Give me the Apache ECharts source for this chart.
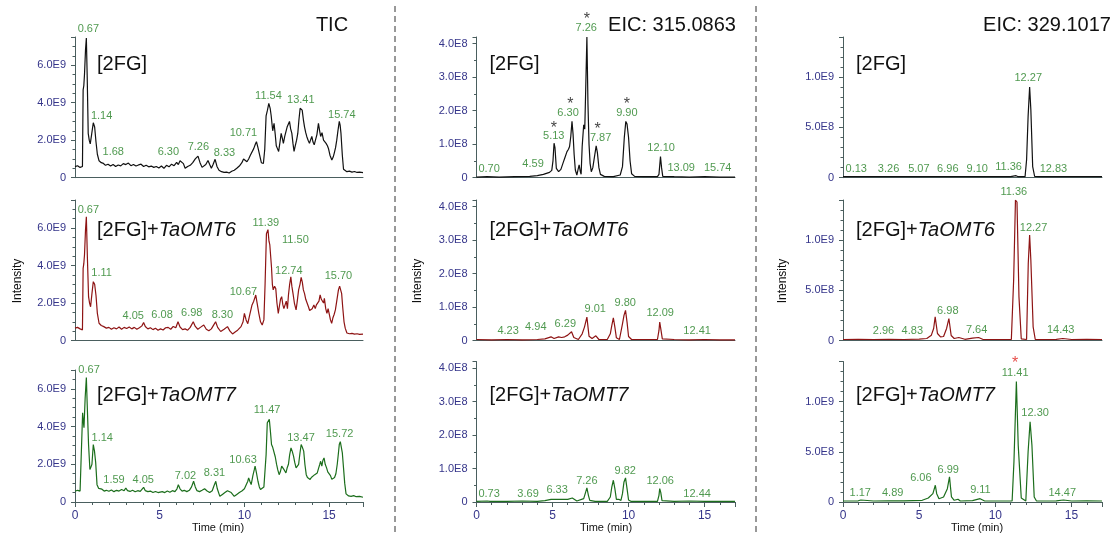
<!DOCTYPE html>
<html>
<head>
<meta charset="utf-8">
<script src="https://cdn.jsdelivr.net/npm/echarts@6/dist/echarts.min.js"></script>
<style>
html,body{margin:0;padding:0;background:#fff}
#chart{width:1112px;height:535px}
</style>
</head>
<body>
<div id="chart"></div>
<script>
// ---- data: [time (min), intensity] ; TIC in E9, EIC in E8 ----
var ticFG = [[0,0.59],[0.15,0.64],[0.3,0.55],[0.44,0.6],[0.48,4.68],[0.52,4.9],[0.56,5.5],[0.62,6.8],[0.67,7.45],[0.72,5.4],[0.78,2.36],[0.84,2.0],[0.9,1.8],[0.98,2.3],[1.08,2.93],[1.16,2.7],[1.24,1.9],[1.32,1.25],[1.42,0.9],[1.55,0.8],[1.68,0.76],[1.8,0.66],[1.95,0.72],[2.1,0.62],[2.25,0.7],[2.4,0.6],[2.55,0.68],[2.7,0.63],[2.85,0.75],[3.0,0.7],[3.15,0.78],[3.3,0.64],[3.45,0.7],[3.6,0.62],[3.75,0.68],[3.9,0.72],[4.05,0.6],[4.2,0.66],[4.35,0.58],[4.5,0.62],[4.65,0.55],[4.8,0.6],[4.95,0.52],[5.1,0.62],[5.25,0.5],[5.4,0.66],[5.55,0.58],[5.7,0.72],[5.85,0.64],[6.0,0.82],[6.1,0.7],[6.2,0.9],[6.3,1.0],[6.4,0.75],[6.5,0.5],[6.65,0.6],[6.8,0.66],[6.95,0.8],[7.1,1.0],[7.26,1.15],[7.38,0.8],[7.5,0.55],[7.6,0.62],[7.72,0.7],[7.85,0.92],[7.95,0.7],[8.05,0.5],[8.15,0.7],[8.27,0.98],[8.38,0.6],[8.5,0.4],[8.65,0.32],[8.8,0.28],[8.95,0.3],[9.1,0.25],[9.25,0.34],[9.4,0.4],[9.55,0.5],[9.7,0.62],[9.85,0.8],[9.95,1.0],[10.05,1.1],[10.15,0.85],[10.25,1.0],[10.35,1.2],[10.45,1.3],[10.55,1.55],[10.65,1.8],[10.71,1.92],[10.8,1.6],[10.9,1.2],[11.0,0.8],[11.12,0.76],[11.2,1.5],[11.28,3.3],[11.36,3.6],[11.44,3.96],[11.52,3.7],[11.58,3.3],[11.67,2.5],[11.75,2.9],[11.82,2.3],[11.88,1.7],[11.95,1.55],[12.02,1.4],[12.1,1.9],[12.17,2.36],[12.24,2.1],[12.3,1.83],[12.38,2.2],[12.45,2.1],[12.52,2.7],[12.6,2.8],[12.66,3.0],[12.73,2.6],[12.8,2.36],[12.87,1.8],[12.93,1.4],[13.0,1.7],[13.08,2.0],[13.15,2.36],[13.22,3.1],[13.29,3.7],[13.35,3.8],[13.41,3.6],[13.48,3.1],[13.55,2.7],[13.62,2.4],[13.68,2.2],[13.76,2.0],[13.84,1.83],[13.9,2.0],[13.98,2.2],[14.05,1.9],[14.12,1.75],[14.2,1.65],[14.28,2.3],[14.37,2.9],[14.44,2.5],[14.5,2.2],[14.58,2.4],[14.67,2.0],[14.75,2.1],[14.82,1.83],[14.9,1.7],[14.96,1.56],[15.05,1.2],[15.16,0.94],[15.24,1.1],[15.3,1.3],[15.38,1.6],[15.45,2.0],[15.52,2.5],[15.6,3.0],[15.65,2.8],[15.7,2.36],[15.78,1.2],[15.85,0.45],[15.95,0.36],[16.05,0.32],[16.2,0.35],[16.35,0.3],[16.5,0.33],[16.65,0.28],[16.8,0.3],[17.0,0.27]];
var ticOMT6 = [[0,0.66],[0.15,0.7],[0.3,0.62],[0.44,0.57],[0.48,3.85],[0.52,4.1],[0.56,4.56],[0.62,5.9],[0.67,6.6],[0.73,4.47],[0.8,2.34],[0.86,2.0],[0.92,1.8],[1.0,2.5],[1.08,3.14],[1.16,3.0],[1.24,2.4],[1.32,1.45],[1.42,0.92],[1.55,0.8],[1.7,0.74],[1.85,0.66],[2.0,0.7],[2.15,0.6],[2.3,0.68],[2.45,0.62],[2.6,0.72],[2.75,0.6],[2.9,0.7],[3.05,0.64],[3.2,0.72],[3.35,0.62],[3.5,0.7],[3.65,0.6],[3.8,0.68],[3.95,0.78],[4.05,0.96],[4.15,0.75],[4.3,0.62],[4.45,0.68],[4.6,0.58],[4.75,0.65],[4.9,0.55],[5.05,0.62],[5.2,0.56],[5.35,0.68],[5.5,0.7],[5.65,0.6],[5.8,0.75],[5.95,0.68],[6.08,1.0],[6.2,0.72],[6.35,0.58],[6.5,0.62],[6.65,0.55],[6.8,0.7],[6.98,1.0],[7.1,0.75],[7.25,0.6],[7.4,0.7],[7.6,0.83],[7.75,0.6],[7.9,0.52],[8.05,0.62],[8.2,0.85],[8.3,1.0],[8.42,0.7],[8.6,0.48],[8.8,0.6],[9.0,0.74],[9.15,0.5],[9.3,0.35],[9.45,0.45],[9.6,0.55],[9.8,0.74],[9.92,1.0],[10.0,1.45],[10.1,1.1],[10.2,0.9],[10.32,1.4],[10.45,1.9],[10.55,2.1],[10.67,2.43],[10.75,2.0],[10.85,1.45],[10.95,1.0],[11.05,0.83],[11.15,1.1],[11.22,3.0],[11.3,5.7],[11.39,5.92],[11.45,5.3],[11.5,5.1],[11.55,4.5],[11.6,3.9],[11.65,3.0],[11.7,2.7],[11.78,2.9],[11.85,2.78],[11.92,2.0],[12.0,1.45],[12.06,1.8],[12.13,2.2],[12.2,2.34],[12.27,1.9],[12.33,1.7],[12.4,1.8],[12.47,2.1],[12.54,1.7],[12.6,2.43],[12.67,3.0],[12.74,3.4],[12.8,2.9],[12.87,2.5],[12.95,2.0],[13.05,1.63],[13.12,2.1],[13.2,2.7],[13.28,3.0],[13.35,3.37],[13.42,3.1],[13.48,2.7],[13.55,2.5],[13.62,2.2],[13.7,2.0],[13.78,1.8],[13.85,1.6],[13.92,1.54],[14.0,1.7],[14.1,1.9],[14.18,1.7],[14.25,1.9],[14.32,1.8],[14.4,2.1],[14.47,2.43],[14.54,2.2],[14.6,2.3],[14.67,2.0],[14.72,2.25],[14.8,1.7],[14.87,1.45],[14.94,1.7],[15.0,1.6],[15.08,1.1],[15.15,0.92],[15.22,1.2],[15.3,1.4],[15.37,1.63],[15.45,2.1],[15.55,2.7],[15.62,2.9],[15.68,3.0],[15.74,2.5],[15.8,1.8],[15.88,1.0],[15.95,0.66],[16.05,0.4],[16.2,0.36],[16.35,0.38],[16.5,0.34],[16.65,0.36],[16.8,0.33],[17.0,0.34]];
var ticOMT7 = [[0,0.57],[0.15,0.62],[0.3,0.58],[0.4,0.6],[0.45,4.73],[0.5,4.2],[0.53,3.94],[0.6,5.53],[0.67,6.6],[0.72,5.18],[0.8,3.05],[0.88,1.72],[0.94,1.85],[1.0,2.0],[1.08,3.05],[1.15,2.7],[1.22,2.1],[1.3,0.92],[1.4,0.72],[1.5,0.66],[1.59,0.68],[1.72,0.58],[1.85,0.62],[2.0,0.57],[2.15,0.64],[2.3,0.55],[2.45,0.62],[2.6,0.58],[2.75,0.66],[2.9,0.6],[3.0,0.74],[3.1,0.6],[3.25,0.56],[3.4,0.62],[3.55,0.54],[3.7,0.6],[3.85,0.56],[3.95,0.65],[4.05,0.78],[4.15,0.6],[4.3,0.55],[4.45,0.58],[4.6,0.5],[4.75,0.56],[4.9,0.5],[5.0,0.48],[5.15,0.55],[5.3,0.5],[5.45,0.58],[5.6,0.52],[5.75,0.6],[5.9,0.55],[6.02,0.7],[6.1,0.92],[6.2,0.7],[6.32,0.58],[6.45,0.62],[6.6,0.55],[6.75,0.62],[6.88,0.8],[7.0,1.1],[7.1,0.8],[7.2,0.6],[7.35,0.55],[7.5,0.62],[7.65,0.7],[7.8,0.58],[7.95,0.5],[8.1,0.6],[8.2,0.85],[8.31,1.1],[8.4,0.7],[8.55,0.3],[8.7,0.4],[8.85,0.5],[9.0,0.6],[9.1,0.66],[9.22,0.5],[9.4,0.3],[9.55,0.4],[9.7,0.5],[9.85,0.58],[10.0,0.7],[10.1,0.8],[10.2,1.1],[10.25,1.28],[10.32,1.1],[10.4,0.92],[10.5,1.4],[10.58,1.7],[10.63,1.9],[10.7,1.6],[10.8,1.1],[10.88,0.8],[10.95,0.66],[11.05,0.75],[11.15,0.8],[11.22,0.83],[11.28,2.5],[11.35,4.2],[11.42,4.3],[11.47,4.38],[11.53,3.8],[11.6,3.05],[11.67,2.9],[11.75,2.87],[11.82,2.4],[11.9,1.99],[11.97,1.7],[12.05,1.45],[12.12,1.6],[12.2,1.9],[12.27,1.99],[12.35,1.7],[12.45,1.54],[12.52,1.8],[12.6,2.0],[12.67,2.5],[12.75,2.87],[12.82,2.7],[12.9,2.43],[12.97,2.1],[13.05,1.81],[13.12,1.9],[13.2,2.0],[13.28,2.6],[13.35,3.05],[13.42,2.9],[13.5,2.7],[13.57,2.0],[13.65,1.45],[13.72,1.3],[13.8,1.2],[13.88,1.19],[13.95,1.3],[14.05,1.35],[14.15,1.45],[14.22,1.4],[14.3,1.54],[14.38,1.8],[14.45,2.0],[14.5,2.16],[14.57,1.9],[14.63,2.2],[14.7,2.34],[14.77,2.0],[14.85,1.81],[14.92,1.6],[15.0,1.5],[15.08,1.4],[15.16,1.2],[15.25,1.1],[15.32,1.3],[15.4,1.5],[15.48,2.0],[15.55,2.6],[15.6,3.05],[15.66,3.2],[15.72,3.23],[15.78,2.6],[15.85,1.81],[15.92,1.0],[16.0,0.43],[16.15,0.32],[16.3,0.3],[16.45,0.34],[16.6,0.28],[16.8,0.3],[17.0,0.25]];

var eic315FG = [[0,0.02],[0.7,0.03],[1.5,0.02],[2.5,0.03],[3.5,0.04],[4.0,0.06],[4.4,0.1],[4.6,0.13],[4.8,0.16],[4.95,0.22],[5.03,0.5],[5.1,1.03],[5.16,0.9],[5.25,0.28],[5.4,0.18],[5.55,0.25],[5.7,0.45],[5.8,0.58],[5.95,0.78],[6.05,0.85],[6.12,0.93],[6.2,1.23],[6.28,1.68],[6.35,1.3],[6.42,0.7],[6.5,0.23],[6.6,0.08],[6.68,0.25],[6.75,0.38],[6.82,0.2],[6.88,0.1],[6.95,0.93],[7.05,1.58],[7.12,1.45],[7.18,2.6],[7.26,4.2],[7.33,2.2],[7.4,1.0],[7.47,0.43],[7.55,0.18],[7.65,0.3],[7.75,0.6],[7.87,0.95],[7.95,0.75],[8.05,0.3],[8.15,0.1],[8.4,0.04],[9.0,0.03],[9.45,0.08],[9.6,0.33],[9.72,1.2],[9.82,1.68],[9.9,1.6],[10.0,1.2],[10.1,0.5],[10.2,0.12],[10.4,0.04],[11.0,0.03],[11.9,0.03],[12.0,0.1],[12.1,0.63],[12.17,0.3],[12.25,0.04],[13.0,0.03],[14.0,0.02],[15.0,0.03],[16.0,0.02],[17.0,0.02]];
var eic315OMT6 = [[0,0.03],[1,0.02],[2,0.03],[3,0.02],[4,0.03],[4.5,0.05],[4.9,0.11],[5.1,0.06],[5.4,0.11],[5.6,0.09],[5.8,0.11],[6.0,0.16],[6.12,0.2],[6.25,0.26],[6.4,0.09],[6.7,0.03],[6.95,0.2],[7.1,0.4],[7.26,0.7],[7.4,0.13],[7.6,0.06],[7.85,0.14],[8.05,0.03],[8.6,0.03],[8.8,0.2],[8.9,0.45],[9.0,0.68],[9.1,0.4],[9.2,0.08],[9.4,0.03],[9.6,0.5],[9.7,0.75],[9.8,0.9],[9.9,0.55],[10.0,0.12],[10.2,0.03],[11.0,0.03],[11.9,0.03],[12.0,0.3],[12.05,0.55],[12.12,0.35],[12.22,0.05],[13,0.03],[14,0.02],[15,0.03],[16,0.02],[17,0.02]];
var eic315OMT7 = [[0,0.02],[0.7,0.03],[0.8,0.05],[0.9,0.02],[2,0.02],[3,0.03],[4,0.02],[4.5,0.04],[4.9,0.08],[5.0,0.06],[5.5,0.08],[6.0,0.08],[6.3,0.12],[6.6,0.03],[7.05,0.1],[7.15,0.25],[7.26,0.42],[7.36,0.2],[7.45,0.05],[7.8,0.02],[8.6,0.02],[8.8,0.15],[8.9,0.45],[9.0,0.65],[9.1,0.4],[9.2,0.08],[9.35,0.08],[9.5,0.05],[9.6,0.25],[9.7,0.6],[9.8,0.72],[9.9,0.4],[10.0,0.06],[10.15,0.02],[11.9,0.02],[12.0,0.2],[12.05,0.4],[12.12,0.28],[12.2,0.04],[13,0.02],[14,0.03],[15,0.02],[16,0.02],[17,0.02]];

var eic329FG = [[0,0.1],[1,0.12],[2,0.1],[3,0.11],[4,0.1],[5,0.12],[6,0.1],[7,0.11],[8,0.1],[9,0.12],[10,0.1],[11,0.11],[11.36,0.2],[11.5,0.1],[11.95,0.1],[12.05,1.77],[12.15,6.1],[12.25,9.03],[12.33,6.77],[12.45,1.1],[12.58,0.12],[13,0.1],[14,0.11],[15,0.1],[16,0.11],[17,0.1]];
var eic329OMT6 = [[0,0.1],[1,0.12],[2,0.1],[3,0.11],[4,0.1],[5,0.14],[5.5,0.2],[5.8,0.53],[5.95,1.2],[6.05,2.36],[6.2,0.7],[6.4,0.37],[6.6,0.4],[6.8,1.2],[6.95,2.19],[7.1,0.5],[7.3,0.2],[7.6,0.3],[8.0,0.12],[8.5,0.23],[8.9,0.3],[9.2,0.1],[10,0.1],[11.05,0.1],[11.2,6.0],[11.32,14.0],[11.42,13.8],[11.55,4.35],[11.7,0.17],[12.05,0.1],[12.16,7.67],[12.25,10.5],[12.33,8.0],[12.48,1.36],[12.62,0.1],[13,0.1],[14,0.12],[14.43,0.2],[15,0.1],[16,0.12],[17,0.1]];
var eic329OMT7 = [[0,0.1],[1,0.12],[1.17,0.2],[2,0.1],[3,0.11],[4,0.12],[5.2,0.17],[5.6,0.4],[5.9,0.83],[6.06,1.67],[6.15,0.83],[6.3,0.33],[6.6,0.5],[6.85,1.33],[6.99,2.5],[7.12,0.5],[7.3,0.17],[7.55,0.27],[7.7,0.1],[8.5,0.13],[9.0,0.33],[9.11,0.3],[9.3,0.1],[11.1,0.1],[11.22,4.0],[11.38,12.0],[11.5,5.67],[11.7,0.4],[12.0,0.1],[12.15,5.0],[12.28,8.0],[12.4,5.67],[12.55,0.5],[12.7,0.1],[14,0.12],[14.47,0.2],[15,0.1],[16,0.11],[17,0.1]];

// peak labels: [x of text, y of text, retention time]
var ticFGPeaks = [[0.79,7.91,'0.67'],[1.57,3.31,'1.14'],[2.26,1.35,'1.68'],[5.51,1.35,'6.30'],[7.28,1.62,'7.26'],[8.82,1.30,'8.33'],[9.94,2.36,'10.71'],[11.42,4.37,'11.54'],[13.33,4.14,'13.41'],[15.75,3.34,'15.74']];
var ticOMT6Peaks = [[0.79,6.99,'0.67'],[1.57,3.58,'1.11'],[3.44,1.33,'4.05'],[5.14,1.37,'6.08'],[6.89,1.45,'6.98'],[8.70,1.37,'8.30'],[9.94,2.61,'10.67'],[11.26,6.28,'11.39'],[13.01,5.39,'11.50'],[12.62,3.72,'12.74'],[15.55,3.44,'15.70']];
var ticOMT7Peaks = [[0.83,7.0,'0.67'],[1.61,3.40,'1.14'],[2.30,1.15,'1.59'],[4.03,1.15,'4.05'],[6.52,1.37,'7.02'],[8.23,1.54,'8.31'],[9.92,2.25,'10.63'],[11.34,4.86,'11.47'],[13.34,3.40,'13.47'],[15.62,3.62,'15.72']];
var eic315FGPeaks = [[0.83,0.25,'0.70'],[3.72,0.40,'4.59'],[5.08,1.25,'5.13'],[6.02,1.93,'6.30'],[7.22,4.48,'7.26'],[8.16,1.18,'7.87'],[9.89,1.93,'9.90'],[12.14,0.88,'12.10'],[13.46,0.28,'13.09'],[15.86,0.28,'15.74']];
var eic315OMT6Peaks = [[2.08,0.29,'4.23'],[3.90,0.41,'4.94'],[5.84,0.48,'6.29'],[7.81,0.93,'9.01'],[9.78,1.13,'9.80'],[12.08,0.82,'12.09'],[14.51,0.29,'12.41']];
var eic315OMT7Peaks = [[0.83,0.23,'0.73'],[3.39,0.23,'3.69'],[5.30,0.37,'6.33'],[7.26,0.62,'7.26'],[9.78,0.92,'9.82'],[12.08,0.62,'12.06'],[14.51,0.23,'12.44']];
var eic329FGPeaks = [[0.87,0.83,'0.13'],[2.99,0.83,'3.26'],[4.98,0.83,'5.07'],[6.88,0.83,'6.96'],[8.81,0.83,'9.10'],[10.87,1.03,'11.36'],[12.16,9.93,'12.27'],[13.81,0.83,'12.83']];
var eic329OMT6Peaks = [[11.21,14.8,'11.36'],[12.51,11.26,'12.27'],[6.88,2.92,'6.98'],[2.66,0.93,'2.96'],[4.55,0.93,'4.83'],[8.77,1.03,'7.64'],[14.29,1.03,'14.43']];
var eic329OMT7Peaks = [[11.30,12.9,'11.41'],[12.61,8.83,'12.30'],[6.91,3.23,'6.99'],[5.11,2.43,'6.06'],[9.02,1.17,'9.11'],[1.13,0.9,'1.17'],[3.26,0.9,'4.89'],[14.39,0.9,'14.47']];

// asterisks marking peaks
var eic315FGStars = [[5.08,1.47],[6.17,2.17],[7.26,4.71],[7.97,1.43],[9.89,2.17]];
var eic329OMT7Stars = [[11.30,13.75]];

var titles = ['TIC', 'EIC: 315.0863', 'EIC: 329.1017'];
var samples = ['[2FG]', '[2FG]+', '[2FG]+'];
var enzymes = ['', 'TaOMT6', 'TaOMT7'];

var FONT = 'Liberation Sans, Arial, Helvetica, sans-serif';
var axisColor = '#4a5e5e';
var tickBlue = '#35358a';
var peakGreen = '#237f23';
var lineColors = ['#111111', '#8e1414', '#1c6e1c'];

var colBox = [{left: 75, width: 288}, {left: 476.5, width: 258.5}, {left: 843, width: 259}];
var rowBox = [{top: 37, height: 140.7}, {top: 200, height: 140.5}, {top: 361.5, height: 140.5}];
var yMax = [[7.5, 7.5, 7.0], [4.2, 4.2, 4.2], [14, 14, 14]];
var yStep = [2, 1, 5];
var yMinor = [4, 2, 5];

var traces = [[ticFG, ticOMT6, ticOMT7], [eic315FG, eic315OMT6, eic315OMT7], [eic329FG, eic329OMT6, eic329OMT7]];
var peaks = [[ticFGPeaks, ticOMT6Peaks, ticOMT7Peaks], [eic315FGPeaks, eic315OMT6Peaks, eic315OMT7Peaks], [eic329FGPeaks, eic329OMT6Peaks, eic329OMT7Peaks]];

function yFmt(col) {
	return function (v) {
		if (v === 0) return '0';
		if (col === 0) return v.toFixed(1) + 'E9';
		if (col === 1) return v.toFixed(1) + 'E8';
		return v >= 10 ? (v / 10).toFixed(1) + 'E9' : v.toFixed(1) + 'E8';
	};
}

var grids = [], xAxes = [], yAxes = [], series = [], graphics = [];

for (var c = 0; c < 3; c++) {
	for (var r = 0; r < 3; r++) {
		var gi = grids.length;
		var gTop = rowBox[r].top, gH = rowBox[r].height;
		if (c === 0 && r === 2) { gTop = 370; gH = 132; }
		grids.push({left: colBox[c].left, width: colBox[c].width, top: gTop, height: gH});
		var last = r === 2;
		xAxes.push({
			type: 'value', gridIndex: gi, min: 0, max: 17, interval: 5,
			axisLine: {show: true, onZero: false, lineStyle: {color: axisColor, width: 1}},
			axisTick: {show: last, length: 5, lineStyle: {color: axisColor}},
			minorTick: {show: last, splitNumber: 5, length: 3, lineStyle: {color: axisColor}},
			splitLine: {show: false},
			axisLabel: {show: last, showMaxLabel: false, color: tickBlue, fontSize: 12, fontFamily: FONT, margin: 8}
		});
		yAxes.push({
			type: 'value', gridIndex: gi, min: 0, max: yMax[c][r], interval: yStep[c],
			axisLine: {show: true, lineStyle: {color: axisColor, width: 1}},
			axisTick: {show: true, length: 4, lineStyle: {color: axisColor}},
			minorTick: {show: true, splitNumber: yMinor[c], length: 2.5, lineStyle: {color: axisColor}},
			splitLine: {show: false},
			axisLabel: {showMaxLabel: false, color: tickBlue, fontSize: 11, fontFamily: FONT, margin: 9, formatter: yFmt(c)}
		});
		series.push({
			type: 'line', xAxisIndex: gi, yAxisIndex: gi, data: traces[c][r],
			showSymbol: false, symbol: 'none', silent: true,
			lineStyle: {color: lineColors[r], width: 1.2}, z: 2
		});
		series.push({
			type: 'scatter', xAxisIndex: gi, yAxisIndex: gi, data: peaks[c][r],
			symbolSize: 1, itemStyle: {color: 'rgba(0,0,0,0)'}, clip: false, silent: true, z: 3,
			label: {show: true, position: 'inside', color: peakGreen, fontSize: 11, fontFamily: FONT,
				formatter: function (p) { return p.value[2]; }}
		});
		graphics.push({
			type: 'text', x: colBox[c].left + (c === 0 ? 22 : 13), y: (r === 0 ? 64 : (r === 1 ? 230 : 395)),
			style: {
				text: '{n|' + samples[r] + '}' + (enzymes[r] ? '{i|' + enzymes[r] + '}' : ''),
				verticalAlign: 'middle', align: 'left',
				rich: {
					n: {fontSize: 20, fontFamily: FONT, fill: '#111'},
					i: {fontSize: 20, fontFamily: FONT, fontStyle: 'italic', fill: '#111'}
				}
			}
		});
	}
}

series.push({
	type: 'scatter', xAxisIndex: 3, yAxisIndex: 3, data: eic315FGStars,
	symbolSize: 1, itemStyle: {color: 'rgba(0,0,0,0)'}, clip: false, silent: true, z: 3,
	label: {show: true, position: 'inside', color: '#111', fontSize: 16, fontFamily: FONT, formatter: '*'}
});
series.push({
	type: 'scatter', xAxisIndex: 8, yAxisIndex: 8, data: eic329OMT7Stars,
	symbolSize: 1, itemStyle: {color: 'rgba(0,0,0,0)'}, clip: false, silent: true, z: 3,
	label: {show: true, position: 'inside', color: '#e0201c', fontSize: 16, fontFamily: FONT, formatter: '*'}
});

var titleX = [332, 672, 1047];
var intensityX = [18, 418, 783];
var timeX = [218, 606, 977];
for (var k = 0; k < 3; k++) {
	graphics.push({type: 'text', x: titleX[k], y: 25, style: {text: titles[k], fontSize: 20, fontFamily: FONT, fill: '#111', align: 'center', verticalAlign: 'middle'}});
	graphics.push({type: 'text', x: intensityX[k], y: 281, rotation: Math.PI / 2, style: {text: 'Intensity', fontSize: 12, fontFamily: FONT, fill: '#111', align: 'center', verticalAlign: 'middle'}});
	graphics.push({type: 'text', x: timeX[k], y: 528, style: {text: 'Time (min)', fontSize: 11, fontFamily: FONT, fill: '#111', align: 'center', verticalAlign: 'middle'}});
}
[395, 756].forEach(function (x) {
	graphics.push({type: 'line', shape: {x1: x, y1: 6, x2: x, y2: 532}, style: {stroke: '#333', lineWidth: 1, lineDash: [6, 4]}});
});

var chart = echarts.init(document.getElementById('chart'));
chart.setOption({
	animation: false,
	backgroundColor: '#fff',
	grid: grids,
	xAxis: xAxes,
	yAxis: yAxes,
	series: series,
	graphic: graphics
});
</script>
</body>
</html>
